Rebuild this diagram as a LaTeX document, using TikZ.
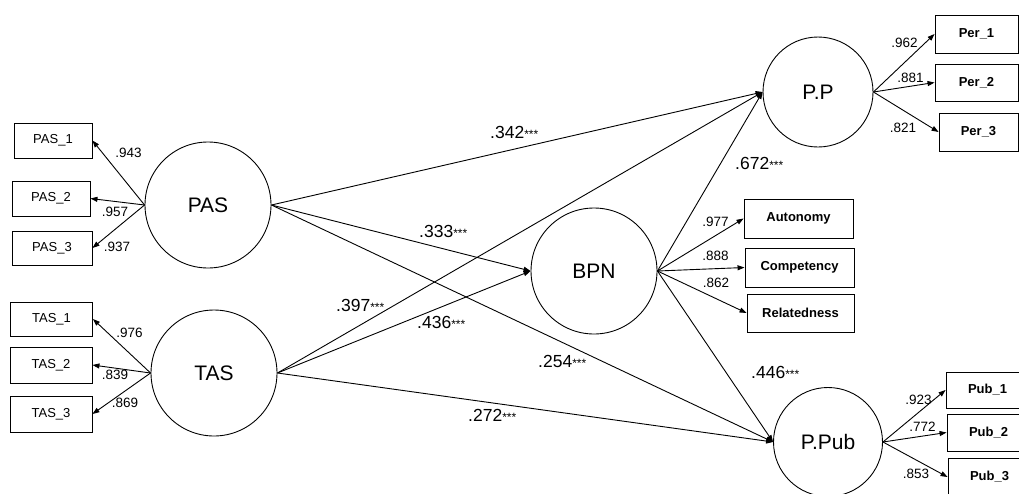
\documentclass[tikz,border=0pt]{standalone}
\usepackage{fontspec}
\setmainfont{Liberation Sans}
\usetikzlibrary{arrows.meta, positioning}

\newcommand{\sigstar}{{\fontsize{12}{12}\selectfont ***}}

\begin{document}
\begin{tikzpicture}[
    x=1pt, y=-1pt, >={Triangle[length=7pt,width=5pt]},
    latent/.style={circle, draw, line width=0.9pt, inner sep=0pt, font=\fontsize{21}{24}\selectfont},
    obs/.style={rectangle, draw, line width=0.9pt, inner sep=0pt, minimum width=82pt, minimum height=36pt, font=\fontsize{13}{15}\selectfont},
    obsb/.style={obs, font=\fontsize{13}{15}\selectfont\bfseries},
    load/.style={inner sep=0pt, font=\fontsize{13.5}{15}\selectfont},
    coef/.style={inner sep=0pt, anchor=base west, font=\fontsize{17.5}{20}\selectfont},
    line/.style={draw, ->, line width=0.9pt}
  ]
  \useasboundingbox (0,0) rectangle (1019,493);
  \clip (0,0) rectangle (1019,493);

  % latent variables
  \node (pas) [latent, minimum size=126pt] at (208,205) {PAS};
  \node (tas) [latent, minimum size=126pt] at (214,373) {TAS};
  \node (bpn) [latent, minimum size=126pt] at (594,271) {BPN};
  \node (pp) [latent, minimum size=110pt] at (818,92) {P.P};
  \node (ppub) [latent, minimum size=109pt] at (828,442) {P.Pub};

  % indicators
  \node (pas1) [obs, minimum width=78pt, minimum height=35pt] at (53,140.5) {PAS\_1};
  \node (pas2) [obs, minimum width=78pt, minimum height=35pt] at (51,198.5) {PAS\_2};
  \node (pas3) [obs, minimum width=80pt, minimum height=34pt] at (52,248) {PAS\_3};
  \node (tas1) [obs, minimum height=34pt] at (51.5,319) {TAS\_1};
  \node (tas2) [obs] at (51,365) {TAS\_2};
  \node (tas3) [obs] at (51,414) {TAS\_3};
  \node (per1) [obsb, minimum width=83pt, minimum height=38pt] at (976.5,34) {Per\_1};
  \node (per2) [obsb, minimum width=83pt, minimum height=37pt] at (976.5,82.5) {Per\_2};
  \node (per3) [obsb, minimum width=79pt, minimum height=38pt] at (978.5,132) {Per\_3};
  \node (auto) [obsb, minimum width=109pt, minimum height=39pt] at (798.5,218.5) {Autonomy};
  \node (comp) [obsb, minimum width=109pt, minimum height=39pt] at (799.5,267.5) {Competency};
  \node (rela) [obsb, minimum width=107pt, minimum height=38pt] at (800.5,313) {Relatedness};
  \node (pub1) [obsb, minimum width=83pt] at (987.5,390) {Pub\_1};
  \node (pub2) [obsb, minimum width=83pt, minimum height=37pt] at (988.5,432.5) {Pub\_2};
  \node (pub3) [obsb, minimum width=83pt, minimum height=38pt] at (989.5,477) {Pub\_3};

  % measurement arrows
  \draw[line] (pas.west) -- (pas1.east);
  \draw[line] (pas.west) -- (pas2.east);
  \draw[line] (pas.west) -- (pas3.east);
  \draw[line] (tas.west) -- (tas1.east);
  \draw[line] (tas.west) -- (tas2.east);
  \draw[line] (tas.west) -- (tas3.east);
  \draw[line] (pp.east) -- (per1.west);
  \draw[line] (pp.east) -- (per2.west);
  \draw[line] (pp.east) -- (per3.west);
  \draw[line] (bpn.east) -- (auto.west);
  \draw[line] (bpn.east) -- (comp.west);
  \draw[line] (bpn.east) -- (rela.west);
  \draw[line] (ppub.east) -- (pub1.west);
  \draw[line] (ppub.east) -- (pub2.west);
  \draw[line] (ppub.east) -- (pub3.west);

  % loadings
  \node (l943) [load] at (128.5,153) {.943};
  \node (l957) [load] at (115,212) {.957};
  \node (l937) [load] at (117,247) {.937};
  \node (l976) [load] at (129.5,333) {.976};
  \node (l839) [load] at (115,375) {.839};
  \node (l869) [load] at (125,403) {.869};
  \node (l962) [load] at (904.5,43) {.962};
  \node (l881) [load] at (910.5,78) {.881};
  \node (l821) [load] at (903,128) {.821};
  \node (l977) [load] at (715.5,222) {.977};
  \node (l888) [load] at (715.5,256) {.888};
  \node (l862) [load] at (716,283) {.862};
  \node (l923) [load] at (918.5,400) {.923};
  \node (l772) [load] at (922.5,427) {.772};
  \node (l853) [load] at (916,474) {.853};

  % structural paths
  \draw[line] (pas.east) -- (pp.west);
  \draw[line] (pas.east) -- (bpn.west);
  \draw[line] (pas.east) -- (ppub.west);
  \draw[line] (tas.east) -- (pp.west);
  \draw[line] (tas.east) -- (bpn.west);
  \draw[line] (tas.east) -- (ppub.west);
  \draw[line] (bpn.east) -- (pp.west);
  \draw[line] (bpn.east) -- (ppub.west);

  % path coefficients
  \node (c342) [coef] at (490,138) {.342\sigstar};
  \node (c333) [coef] at (419,237) {.333\sigstar};
  \node (c397) [coef] at (336,311) {.397\sigstar};
  \node (c436) [coef] at (417,328) {.436\sigstar};
  \node (c254) [coef] at (538,367) {.254\sigstar};
  \node (c272) [coef] at (468,421) {.272\sigstar};
  \node (c672) [coef] at (735,169) {.672\sigstar};
  \node (c446) [coef] at (751,378) {.446\sigstar};
\end{tikzpicture}
\end{document}
